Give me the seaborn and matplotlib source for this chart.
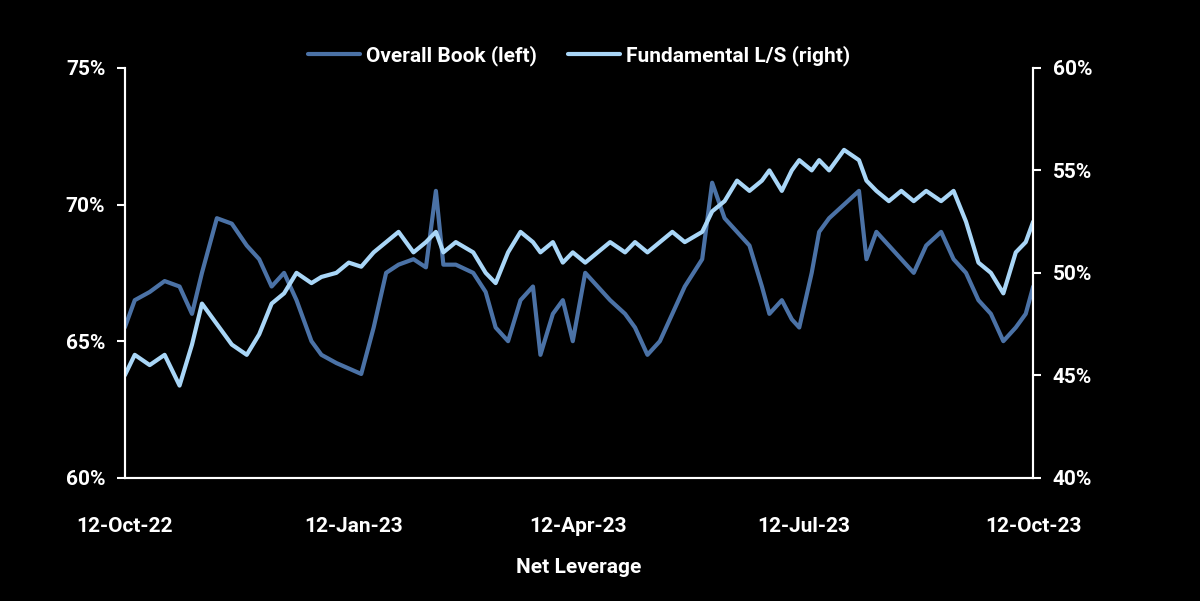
import matplotlib
matplotlib.use("Agg")
import matplotlib.pyplot as plt
import matplotlib.dates as mdates
import matplotlib.ticker as mticker
import seaborn as sns
import pandas as pd

dates = ["2022-10-12", "2022-10-16", "2022-10-22", "2022-10-28", "2022-11-03", "2022-11-08",
         "2022-11-12", "2022-11-18", "2022-11-24", "2022-11-30", "2022-12-05", "2022-12-10",
         "2022-12-15", "2022-12-20", "2022-12-26", "2022-12-30", "2023-01-05", "2023-01-10",
         "2023-01-15", "2023-01-20", "2023-01-25", "2023-01-30", "2023-02-05", "2023-02-10",
         "2023-02-14", "2023-02-17", "2023-02-22", "2023-03-01", "2023-03-06", "2023-03-10",
         "2023-03-15", "2023-03-20", "2023-03-25", "2023-03-28", "2023-04-02", "2023-04-06",
         "2023-04-10", "2023-04-15", "2023-04-20", "2023-04-25", "2023-05-01", "2023-05-05",
         "2023-05-10", "2023-05-15", "2023-05-20", "2023-05-25", "2023-06-01", "2023-06-05",
         "2023-06-10", "2023-06-15", "2023-06-20", "2023-06-25", "2023-06-28", "2023-07-03",
         "2023-07-07", "2023-07-10", "2023-07-15", "2023-07-18", "2023-07-22", "2023-07-28",
         "2023-08-03", "2023-08-06", "2023-08-10", "2023-08-15", "2023-08-20", "2023-08-25",
         "2023-08-30", "2023-09-05", "2023-09-10", "2023-09-15", "2023-09-20", "2023-09-25",
         "2023-09-30", "2023-10-05", "2023-10-09", "2023-10-12"]

overall_book = [65.5, 66.5, 66.8, 67.2, 67.0, 66.0, 67.5, 69.5, 69.3, 68.5, 68.0, 67.0,
                67.5, 66.5, 65.0, 64.5, 64.2, 64.0, 63.8, 65.5, 67.5, 67.8, 68.0, 67.7,
                70.5, 67.8, 67.8, 67.5, 66.8, 65.5, 65.0, 66.5, 67.0, 64.5, 66.0, 66.5,
                65.0, 67.5, 67.0, 66.5, 66.0, 65.5, 64.5, 65.0, 66.0, 67.0, 68.0, 70.8,
                69.5, 69.0, 68.5, 67.0, 66.0, 66.5, 65.8, 65.5, 67.5, 69.0, 69.5, 70.0,
                70.5, 68.0, 69.0, 68.5, 68.0, 67.5, 68.5, 69.0, 68.0, 67.5, 66.5, 66.0,
                65.0, 65.5, 66.0, 67.0]

fundamental_ls = [45.0, 46.0, 45.5, 46.0, 44.5, 46.5, 48.5, 47.5, 46.5, 46.0, 47.0, 48.5,
                  49.0, 50.0, 49.5, 49.8, 50.0, 50.5, 50.3, 51.0, 51.5, 52.0, 51.0, 51.5,
                  52.0, 51.0, 51.5, 51.0, 50.0, 49.5, 51.0, 52.0, 51.5, 51.0, 51.5, 50.5,
                  51.0, 50.5, 51.0, 51.5, 51.0, 51.5, 51.0, 51.5, 52.0, 51.5, 52.0, 53.0,
                  53.5, 54.5, 54.0, 54.5, 55.0, 54.0, 55.0, 55.5, 55.0, 55.5, 55.0, 56.0,
                  55.5, 54.5, 54.0, 53.5, 54.0, 53.5, 54.0, 53.5, 54.0, 52.5, 50.5, 50.0,
                  49.0, 51.0, 51.5, 52.5]

df = pd.DataFrame({"date": pd.to_datetime(dates), "overall": overall_book, "fund": fundamental_ls})

sns.set_style("dark")
plt.rcParams["font.family"] = ["Roboto", "DejaVu Sans"]
plt.rcParams["font.weight"] = "bold"

dark_c = "#4b72a6"
light_c = "#a9d6f7"

fig, ax = plt.subplots(figsize=(12, 6.01), dpi=100)
fig.patch.set_facecolor("black")
ax.set_facecolor("black")
ax2 = ax.twinx()

sns.lineplot(df, x="date", y="overall", ax=ax, color=dark_c, linewidth=3, label="Overall Book (left)", legend=False)
sns.lineplot(df, x="date", y="fund", ax=ax2, color=light_c, linewidth=3, label="Fundamental L/S (right)", legend=False)

ax.set_ylim(60, 75)
ax2.set_ylim(40, 60)
ax.yaxis.set_major_locator(mticker.MultipleLocator(5))
ax2.yaxis.set_major_locator(mticker.MultipleLocator(5))
ax.yaxis.set_major_formatter(mticker.FormatStrFormatter("%d%%"))
ax2.yaxis.set_major_formatter(mticker.FormatStrFormatter("%d%%"))
ax.set_xlim(pd.Timestamp("2022-10-12"), pd.Timestamp("2023-10-12"))
ticks = pd.to_datetime(["2022-10-12", "2023-01-12", "2023-04-12", "2023-07-12", "2023-10-12"])
ax.set_xticks(ticks)
ax.xaxis.set_major_formatter(mdates.DateFormatter("%d-%b-%y"))

for a in (ax, ax2):
    a.grid(False)
    a.tick_params(colors="white", labelsize=15, length=6, width=1.5, direction="out", pad=8)
    for s in a.spines.values():
        s.set_color("white")
        s.set_linewidth(1.5)
    a.spines["top"].set_visible(False)
    a.set_ylabel("")
ax.tick_params(axis="x", length=0, pad=28)
ax.set_xlabel("Net Leverage", color="white", fontsize=15, fontweight="bold", labelpad=16)

h1, l1 = ax.get_legend_handles_labels()
h2, l2 = ax2.get_legend_handles_labels()
leg = ax.legend(h1 + h2, l1 + l2, loc="center", bbox_to_anchor=(0.5, 1.03), ncol=2,
                frameon=False, fontsize=15, handlelength=2.5, handletextpad=0.3, columnspacing=1.5)
for t in leg.get_texts():
    t.set_color("white")

plt.subplots_adjust(left=0.104, right=0.861, top=0.887, bottom=0.205)
fig.savefig("out.png", facecolor="black")
